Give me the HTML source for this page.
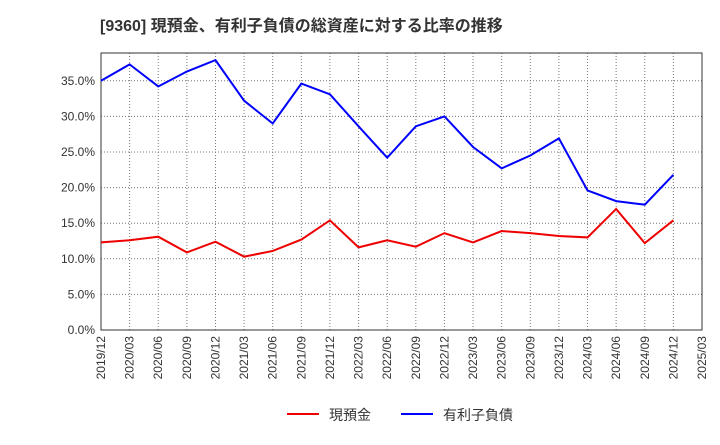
<!DOCTYPE html>
<html><head><meta charset="utf-8"><style>
body{margin:0;background:#fff;font-family:"Liberation Sans","Noto Sans CJK JP",sans-serif;}
</style></head><body>
<svg id="c" width="720" height="440" xmlns="http://www.w3.org/2000/svg">
<text x="100" y="31" font-size="16" font-weight="bold" fill="#333" font-family="Liberation Sans, Noto Sans CJK JP, sans-serif">[9360]  現預金、有利子負債の総資産に対する比率の推移</text>
<g id="grid"></g><g id="axes"></g><g id="series"></g>
<g>
<line x1="287" y1="414" x2="319" y2="414" stroke="#e00" stroke-width="2"/>
<text x="329" y="420" font-size="14" fill="#333" font-family="Liberation Sans, Noto Sans CJK JP, sans-serif">現預金</text>
<line x1="401" y1="414" x2="433" y2="414" stroke="#00f" stroke-width="2"/>
<text x="443" y="420" font-size="14" fill="#333" font-family="Liberation Sans, Noto Sans CJK JP, sans-serif">有利子負債</text>
</g>
</svg>
<script>
const xLabels=["2019/12","2020/03","2020/06","2020/09","2020/12","2021/03","2021/06","2021/09","2021/12","2022/03","2022/06","2022/09","2022/12","2023/03","2023/06","2023/09","2023/12","2024/03","2024/06","2024/09","2024/12","2025/03"];
const yTicks=[0,5,10,15,20,25,30,35];
const cash=[12.3,12.6,13.1,10.9,12.4,10.3,11.1,12.7,15.4,11.6,12.6,11.7,13.6,12.3,13.9,13.6,13.2,13.0,17.0,12.2,15.4];
const debt=[35.0,37.3,34.2,36.3,37.9,32.2,29.0,34.6,33.1,28.6,24.2,28.6,30.0,25.7,22.7,24.5,26.9,19.6,18.1,17.6,21.8];
const L=101,R=702,T=53,B=330,yMax=38.9;
const NS="http://www.w3.org/2000/svg";
const xs=i=>L+i*(R-L)/(xLabels.length-1);
const ys=v=>B-v/yMax*(B-T);
function mk(p,tag,a){const e=document.createElementNS(NS,tag);for(const k in a)e.setAttribute(k,a[k]);document.getElementById(p).appendChild(e);return e;}
xLabels.forEach((l,i)=>{
 const g=mk("grid","line",{x1:xs(i),x2:xs(i),y1:T,y2:B,stroke:"#777","stroke-dasharray":"1,2","stroke-width":1});
 
 
 const t=mk("axes","text",{x:0,y:0,"font-size":12,fill:"#333","text-anchor":"end",transform:`translate(${xs(i)+4},${B+6}) rotate(-90)`});
 t.textContent=l;
 
 
});
yTicks.forEach(v=>{
 const g=mk("grid","line",{x1:L,x2:R,y1:ys(v),y2:ys(v),stroke:"#777","stroke-dasharray":"1,2","stroke-width":1});
 
 
 const t=mk("axes","text",{x:L-6,y:ys(v)+4,"font-size":12,fill:"#333","text-anchor":"end"});
 t.textContent=v.toFixed(1)+"%";
 
 
});
const fr=mk("axes","rect",{x:L,y:T,width:R-L,height:B-T,fill:"none",stroke:"#333","stroke-width":1});


[[cash,"#e00","cash-line"],[debt,"#00f","debt-line"]].forEach(([d,c,n])=>{
 const p=mk("series","polyline",{points:d.map((v,i)=>xs(i)+","+ys(v)).join(" "),fill:"none",stroke:c,"stroke-width":2});
 
 
});
</script>
</body></html>
